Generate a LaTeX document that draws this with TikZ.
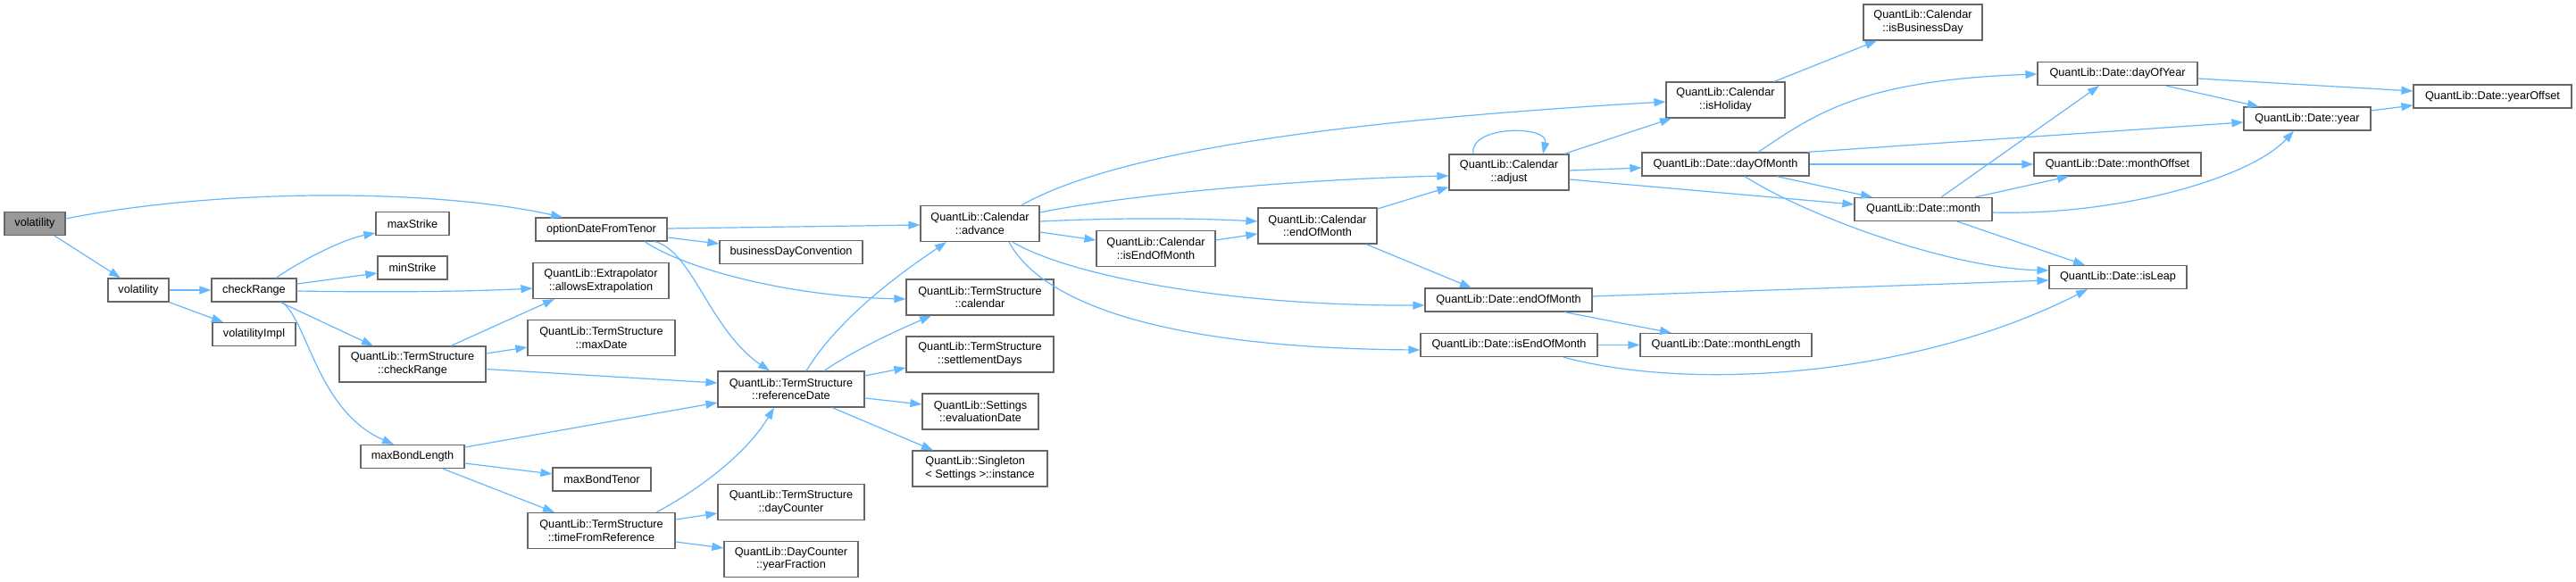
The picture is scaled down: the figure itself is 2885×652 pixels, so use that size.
\documentclass[tikz,border=0pt]{standalone}
\usepackage{fontspec}
\setmainfont{Liberation Sans}
\usetikzlibrary{arrows.meta}
\definecolor{edgeblue}{HTML}{63B8FF}
\definecolor{nodeborder}{HTML}{666666}
\definecolor{rootfill}{HTML}{999999}
\begin{document}
\begin{tikzpicture}[x=1pt,y=1pt,
  box/.style={draw=nodeborder, fill=white, line width=1.2pt, inner sep=0pt,
    font=\fontsize{12.7}{14.7}\selectfont, align=center, text=black},
  one/.style={box, minimum height=26pt},
  two/.style={box, minimum height=40pt},
  e/.style={draw=edgeblue, line width=1.2pt, -{Triangle[length=13pt,width=9pt]}}]
\fill[white] (0,0) rectangle (2885,-652);
\useasboundingbox (0,0) rectangle (2885,-652);
% nodes
\node[one, fill=rootfill, minimum width=68pt] (v0) at (39,-250.5) {volatility};
\node[one, minimum width=68pt] (v1) at (155,-325) {volatility};
\node[one, minimum width=95pt] (cr) at (284.5,-325) {checkRange};
\node[one, minimum width=93pt] (vi) at (284.5,-374.5) {volatilityImpl};
\node[one, minimum width=82pt] (mxs) at (462,-250.5) {maxStrike};
\node[one, minimum width=78pt] (mns) at (462,-300) {minStrike};
\node[two, minimum width=164pt] (tscr) at (462,-408) {QuantLib::TermStructure\\::checkRange};
\node[one, minimum width=116pt] (mbl) at (462,-511.5) {maxBondLength};
\node[one, minimum width=147pt] (odt) at (673.5,-257) {optionDateFromTenor};
\node[two, minimum width=152pt] (ext) at (673,-314.5) {QuantLib::Extrapolator\\::allowsExtrapolation};
\node[two, minimum width=165pt] (tsmd) at (673.5,-378.5) {QuantLib::TermStructure\\::maxDate};
\node[one, minimum width=110pt] (mbt) at (674,-537) {maxBondTenor};
\node[two, minimum width=165pt] (tfr) at (673.5,-594.5) {QuantLib::TermStructure\\::timeFromReference};
\node[one, minimum width=160pt] (bdc) at (886,-282.5) {businessDayConvention};
\node[two, minimum width=164pt] (rd) at (886,-436) {QuantLib::TermStructure\\::referenceDate};
\node[two, minimum width=164pt] (dc) at (886,-562.5) {QuantLib::TermStructure\\::dayCounter};
\node[two, minimum width=150pt] (yf) at (886,-626.3) {QuantLib::DayCounter\\::yearFraction};
\node[two, minimum width=133pt] (adv) at (1097.5,-250.5) {QuantLib::Calendar\\::advance};
\node[two, minimum width=165pt] (cal) at (1097.5,-333) {QuantLib::TermStructure\\::calendar};
\node[two, minimum width=165pt] (sd) at (1097.5,-397) {QuantLib::TermStructure\\::settlementDays};
\node[two, minimum width=130pt] (ed) at (1098,-461) {QuantLib::Settings\\::evaluationDate};
\node[two, minimum width=151pt, align=left] (sg) at (1097.5,-525) {QuantLib::Singleton\\< Settings >::instance};
\node[two, minimum width=133pt] (cieom) at (1294.5,-278.5) {QuantLib::Calendar\\::isEndOfMonth};
\node[two, minimum width=133pt] (ceom) at (1475.5,-253) {QuantLib::Calendar\\::endOfMonth};
\node[two, minimum width=134pt] (adj) at (1690,-193) {QuantLib::Calendar\\::adjust};
\node[one, minimum width=187pt] (deom) at (1689.5,-336) {QuantLib::Date::endOfMonth};
\node[one, minimum width=198pt] (dieom) at (1690,-386.5) {QuantLib::Date::isEndOfMonth};
\node[two, minimum width=133pt] (hol) at (1932.5,-112) {QuantLib::Calendar\\::isHoliday};
\node[one, minimum width=187pt] (dom) at (1932.5,-184) {QuantLib::Date::dayOfMonth};
\node[one, minimum width=192pt] (ml) at (1933,-386.5) {QuantLib::Date::monthLength};
\node[two, minimum width=133pt] (ibd) at (2153.5,-25) {QuantLib::Calendar\\::isBusinessDay};
\node[one, minimum width=154pt] (mon) at (2154,-234.5) {QuantLib::Date::month};
\node[one, minimum width=179pt] (doy) at (2371.5,-82.5) {QuantLib::Date::dayOfYear};
\node[one, minimum width=187pt] (mo) at (2371.5,-184) {QuantLib::Date::monthOffset};
\node[one, minimum width=154pt] (il) at (2372,-310.5) {QuantLib::Date::isLeap};
\node[one, minimum width=142pt] (yr) at (2584,-133) {QuantLib::Date::year};
\node[one, minimum width=177pt] (yo) at (2791.5,-108) {QuantLib::Date::yearOffset};
% edges
\draw[e] ([yshift=5.5]v0.east) .. controls (250,-210) and (490,-212) .. ([xshift=-43.5]odt.north);
\draw[e] ([xshift=22]v0.south) -- ([xshift=-20]v1.north);
\draw[e] (v1.east) -- (cr.west);
\draw[e] (v1.south east) -- ([xshift=-34.5]vi.north);
\draw[e] ([xshift=24.5]cr.north) .. controls (340,-290) and (385,-268) .. ([yshift=-10.5]mxs.west);
\draw[e] ([yshift=7]cr.east) -- ([yshift=-6]mns.west);
\draw[e] ([yshift=-1]cr.east) .. controls (420,-327.5) and (520,-327) .. ([yshift=-8.5]ext.west);
\draw[e] ([xshift=29.5]cr.south) -- ([xshift=-44]tscr.north);
\draw[e] ([xshift=31.5]cr.south) .. controls (345,-360) and (355,-460) .. ([xshift=-21]mbl.north);
\draw[e] ([xshift=43]tscr.north) -- ([xshift=-52]ext.south);
\draw[e] ([yshift=12]tscr.east) -- ([yshift=-10.5]tsmd.west);
\draw[e] ([yshift=-5.5]tscr.east) -- ([yshift=7]rd.west);
\draw[e] ([yshift=10.5]mbl.east) -- ([yshift=-15]rd.west);
\draw[e] ([yshift=-7.5]mbl.east) -- ([yshift=6]mbt.west);
\draw[e] ([xshift=34]mbl.south) -- ([xshift=-52.5]tfr.north);
\draw[e] ([xshift=61.5]tfr.north) .. controls (780,-550) and (835,-510) .. ([xshift=-19]rd.south);
\draw[e] ([yshift=12.5]tfr.east) -- ([yshift=-12.5]dc.west);
\draw[e] ([yshift=-12.5]tfr.east) -- ([yshift=12.3]yf.west);
\draw[e] ([yshift=1]odt.east) -- ([yshift=-1.5]adv.west);
\draw[e] ([yshift=-9]odt.east) -- ([yshift=9.5]bdc.west);
\draw[e] ([xshift=48.5]odt.south) .. controls (765,-300) and (880,-332) .. ([yshift=-2]cal.west);
\draw[e] ([xshift=59.5]odt.south) .. controls (775,-280) and (795,-370) .. ([xshift=-24]rd.north);
\draw[e] ([xshift=17]rd.north) .. controls (940,-355) and (1010,-305) .. ([xshift=-37.5]adv.south);
\draw[e] ([xshift=37]rd.north) .. controls (960,-390) and (1010,-368) .. ([xshift=-54.5]cal.south);
\draw[e] ([yshift=15]rd.east) -- ([yshift=-15]sd.west);
\draw[e] ([yshift=-10]rd.east) -- ([yshift=8]ed.west);
\draw[e] ([xshift=46]rd.south) -- ([xshift=-52.5]sg.north);
\draw[e] ([xshift=46.5]adv.north) .. controls (1250,-170) and (1500,-135) .. ([yshift=-2]hol.west);
\draw[e] ([yshift=12.5]adv.east) .. controls (1280,-215) and (1480,-200) .. ([yshift=-4]adj.west);
\draw[e] ([yshift=2.5]adv.east) .. controls (1250,-244) and (1330,-244) .. ([yshift=5]ceom.west);
\draw[e] ([yshift=-9.5]adv.east) -- ([yshift=9.5]cieom.west);
\draw[e] ([xshift=36.5]adv.south) .. controls (1200,-310) and (1380,-343) .. ([yshift=-6]deom.west);
\draw[e] ([xshift=32.5]adv.south) .. controls (1170,-345) and (1320,-390) .. ([yshift=-5.5]dieom.west);
\draw[e] ([yshift=9.5]cieom.east) -- ([yshift=-9]ceom.west);
\draw[e] ([yshift=19]ceom.east) -- ([yshift=4]adj.south west);
\draw[e] ([xshift=54.5]ceom.south) -- ([xshift=-41.5]deom.north);
\draw[e] ([xshift=-40]adj.north) .. controls (1645,-140) and (1735,-140) .. ([xshift=38]adj.north);
\draw[e] ([xshift=62]adj.north) -- ([xshift=-60.5]hol.south);
\draw[e] ([yshift=2]adj.east) -- ([yshift=-4]dom.west);
\draw[e] ([yshift=-8]adj.east) -- ([yshift=5.5]mon.west);
\draw[e] ([xshift=36.5]dom.north) .. controls (2030,-130) and (2080,-90) .. ([yshift=-0.5]doy.west);
\draw[e] ([xshift=92]dom.north) -- ([yshift=-4]yr.west);
\draw[e] (dom.east) -- (mo.west);
\draw[e] ([xshift=57.5]dom.south) -- ([xshift=-57]mon.north);
\draw[e] ([xshift=21.5]dom.south) .. controls (2020,-240) and (2180,-300) .. ([yshift=7.5]il.west);
\draw[e] ([xshift=20]mon.north) -- ([xshift=-20.5]doy.south);
\draw[e] ([xshift=58]mon.north) -- ([xshift=-54.5]mo.south);
\draw[e] ([yshift=-3.5]mon.east) .. controls (2370,-242) and (2520,-200) .. ([xshift=-15]yr.south);
\draw[e] ([xshift=38]mon.south) -- ([xshift=-37]il.north);
\draw[e] ([yshift=-5.5]doy.east) -- ([yshift=6]yo.west);
\draw[e] ([xshift=54.5]doy.south) -- ([xshift=-54]yr.north);
\draw[e] ([yshift=9]yr.east) -- ([yshift=-10]yo.west);
\draw[e] ([yshift=4]deom.east) -- ([yshift=-3.5]il.west);
\draw[e] ([xshift=62.5]deom.south) -- ([xshift=-61]ml.north);
\draw[e] (dieom.east) -- (ml.west);
\draw[e] ([xshift=61]dieom.south) .. controls (1900,-440) and (2150,-420) .. ([xshift=-34]il.south);
\draw[e] ([xshift=54.5]hol.north) -- ([xshift=-51.5]ibd.south);
\end{tikzpicture}
\end{document}
